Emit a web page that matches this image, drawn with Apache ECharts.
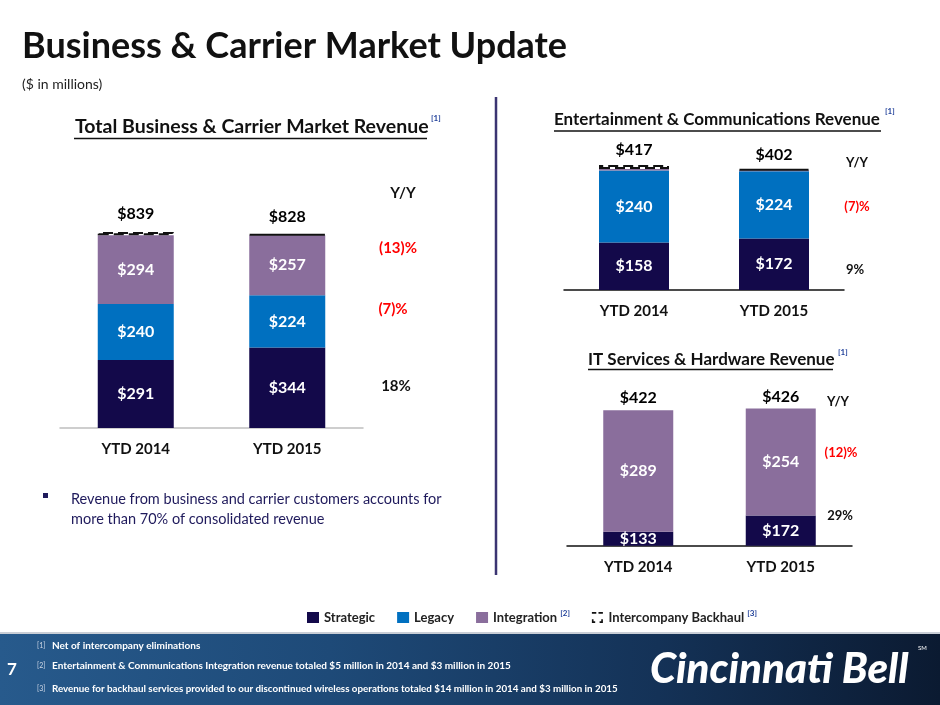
<!DOCTYPE html>
<html>
<head>
<meta charset="utf-8">
<script src="https://cdn.jsdelivr.net/npm/echarts@6/dist/echarts.min.js"></script>
<style>
  html, body { margin: 0; padding: 0; background: #fff; }
  #main { width: 940px; height: 705px; }
</style>
</head>
<body>
<div id="main"></div>
<script>
// categories
var years = ['YTD 2014', 'YTD 2015'];

// Total Business & Carrier Market
var bcStrategic = [291, 344];
var bcLegacy = [240, 224];
var bcIntegration = [294, 257];
var bcBackhaul = [14, 3];
var bcYoY = ['(13)%', '(7)%', '18%'];

// Entertainment & Communications
var ecStrategic = [158, 172];
var ecLegacy = [240, 224];
var ecIntegration = [5, 3];
var ecBackhaul = [14, 3];
var ecYoY = ['(7)%', '9%'];

// IT Services & Hardware
var itStrategic = [133, 172];
var itIntegration = [289, 254];
var itYoY = ['(12)%', '29%'];

var FONT = 'Lato, "Open Sans", sans-serif';
var C_STRAT = '#13094a', C_LEG = '#0070c0', C_INT = '#8a6e9c';
var RED = '#ff0000';

function sum() {
    var arrs = arguments;
    return years.map(function (_, i) {
        var s = 0;
        for (var k = 0; k < arrs.length; k++) s += arrs[k][i];
        return s;
    });
}
var bcTotal = sum(bcStrategic, bcLegacy, bcIntegration, bcBackhaul);
var ecTotal = sum(ecStrategic, ecLegacy, ecIntegration, ecBackhaul);
var itTotal = sum(itStrategic, itIntegration);

var inLabel = {
    show: true, position: 'inside', color: '#fff', fontFamily: FONT,
    fontWeight: 'bold', fontSize: 16,
    formatter: function (p) { return '$' + p.value; }
};

function bar(name, idx, stack, data, color, width, label) {
    return {
        name: name, type: 'bar', stack: stack, xAxisIndex: idx, yAxisIndex: idx,
        data: data, barWidth: width,
        itemStyle: { color: color },
        label: label ? inLabel : { show: false },
        emphasis: { disabled: true }
    };
}
function backhaul(idx, stack, data, width) {
    return {
        name: 'Intercompany Backhaul', type: 'bar', stack: stack,
        xAxisIndex: idx, yAxisIndex: idx, data: data, barWidth: width,
        itemStyle: { color: '#fff', borderColor: '#111', borderWidth: 2, borderType: [10, 5] },
        emphasis: { disabled: true }
    };
}
function totals(idx, data, dist) {
    return {
        name: 'Total', type: 'scatter', xAxisIndex: idx, yAxisIndex: idx,
        data: data, symbolSize: 0, itemStyle: { color: '#000', opacity: 1 },
        label: {
            show: true, position: 'top', distance: dist, color: '#000',
            fontFamily: FONT, fontWeight: 'bold', fontSize: 16,
            formatter: function (p) { return '$' + p.value; }
        },
        emphasis: { disabled: true }, z: 5
    };
}

function txt(x, y, text, size, color, opts) {
    var st = {
        text: text, x: x, y: y, fill: color || '#111', fontFamily: FONT,
        fontSize: size, fontWeight: 'bold', align: 'left', verticalAlign: 'middle'
    };
    for (var k in (opts || {})) st[k] = opts[k];
    return { type: 'text', style: st, z: 10 };
}
function line(x1, y1, x2, y2, color, w) {
    return { type: 'line', shape: { x1: x1, y1: y1, x2: x2, y2: y2 },
             style: { stroke: color, lineWidth: w }, z: 10 };
}
var SUP = '#1f3f99';

var xAxisBase = function (idx, lineColor) {
    return {
        type: 'category', gridIndex: idx, data: years,
        axisTick: { show: false },
        axisLine: { lineStyle: { color: lineColor, width: 1.5 } },
        axisLabel: { color: '#111', fontFamily: FONT, fontWeight: 'bold', fontSize: 15, margin: 14 }
    };
};

var chart = echarts.init(document.getElementById('main'));
var option = {
    animation: false,
    grid: [
        { left: 60, width: 303, top: 194.3, height: 233.7 },
        { left: 564, width: 280, top: 110, height: 180 },
        { left: 567, width: 285, top: 335.2, height: 210.5 }
    ],
    xAxis: [xAxisBase(0, '#bfbfbf'), xAxisBase(1, '#111'), xAxisBase(2, '#111')],
    yAxis: [
        { type: 'value', gridIndex: 0, min: 0, max: 1000, show: false },
        { type: 'value', gridIndex: 1, min: 0, max: 600, show: false },
        { type: 'value', gridIndex: 2, min: 100, max: 600, show: false }
    ],
    legend: {
        left: 302, top: 604, itemWidth: 12, itemHeight: 11, itemGap: 22,
        selectedMode: false,
        data: [
            { name: 'Strategic', icon: 'rect' },
            { name: 'Legacy', icon: 'rect' },
            { name: 'Integration', icon: 'rect' },
            { name: 'Intercompany Backhaul',
              icon: 'path://M0,0h4v1.5h-4z M6,0h4v1.5h-4z M0,6.5h1.5v3.5h-1.5z M8.5,6.5h1.5v3.5h-1.5z M0,8.5h3v1.5h-3z M7,8.5h3v1.5h-3z',
              itemStyle: { color: '#111', borderWidth: 0 } }
        ],
        formatter: function (n) {
            if (n === 'Integration') return n + ' {s|[2]}';
            if (n === 'Intercompany Backhaul') return n + ' {s|[3]}';
            return n;
        },
        textStyle: {
            color: '#222', fontFamily: FONT, fontWeight: 'bold', fontSize: 13,
            rich: { s: { fontSize: 8, color: SUP, fontFamily: FONT, fontWeight: 'bold', padding: [0, 0, 9, 0] } }
        }
    },
    series: [
        bar('Strategic', 0, 'bc', bcStrategic, C_STRAT, 76, true),
        bar('Legacy', 0, 'bc', bcLegacy, C_LEG, 76, true),
        bar('Integration', 0, 'bc', bcIntegration, C_INT, 76, true),
        backhaul(0, 'bc', bcBackhaul, 76),
        totals(0, bcTotal, 10),

        bar('Strategic', 1, 'ec', ecStrategic, C_STRAT, 70, true),
        bar('Legacy', 1, 'ec', ecLegacy, C_LEG, 70, true),
        bar('Integration', 1, 'ec', ecIntegration, C_INT, 70, false),
        backhaul(1, 'ec', ecBackhaul, 70),
        totals(1, ecTotal, 7),

        bar('Strategic', 2, 'it', itStrategic, C_STRAT, 70, true),
        bar('Integration', 2, 'it', itIntegration, C_INT, 70, true),
        totals(2, itTotal, 4)
    ],
    graphic: [
        txt(22, 46, 'Business & Carrier Market Update', 36, '#111'),
        txt(22, 84, '($ in millions)', 14, '#222', { fontWeight: 'normal' }),

        // chart titles
        txt(75, 127, 'Total Business & Carrier Market Revenue', 19.5, '#111'),
        line(74, 138.5, 427, 138.5, '#111', 1.5),
        txt(431, 118, '[1]', 8, SUP),
        txt(554, 120, 'Entertainment & Communications Revenue', 17, '#111'),
        line(554, 131, 881, 131, '#111', 1.5),
        txt(885, 111, '[1]', 8, SUP),
        txt(588, 360, 'IT Services & Hardware Revenue', 17, '#111'),
        line(588, 369.5, 833, 369.5, '#111', 1.5),
        txt(838, 352, '[1]', 8, SUP),

        // divider
        line(496, 97, 496, 575, '#3b3472', 2.5),

        // Y/Y columns
        txt(403, 193, 'Y/Y', 15, '#111', { align: 'center' }),
        txt(398, 248, bcYoY[0], 15, RED, { align: 'center' }),
        txt(393, 309, bcYoY[1], 15, RED, { align: 'center' }),
        txt(396, 386, bcYoY[2], 15, '#111', { align: 'center' }),
        txt(857, 163, 'Y/Y', 13, '#111', { align: 'center' }),
        txt(857, 207, ecYoY[0], 13, RED, { align: 'center' }),
        txt(855, 270, ecYoY[1], 13, '#111', { align: 'center' }),
        txt(838, 402, 'Y/Y', 13, '#111', { align: 'center' }),
        txt(841, 453, itYoY[0], 13, RED, { align: 'center' }),
        txt(840, 516, itYoY[1], 13, '#111', { align: 'center' }),

        // bullet
        { type: 'rect', shape: { x: 43, y: 493, width: 5, height: 5 }, style: { fill: '#1f1a5c' }, z: 10 },
        txt(71, 499, 'Revenue from business and carrier customers accounts for', 14.5, '#1f1a5c', { fontWeight: 'normal' }),
        txt(71, 519, 'more than 70% of consolidated revenue', 14.5, '#1f1a5c', { fontWeight: 'normal' }),

        // footer band
        { type: 'rect', shape: { x: 0, y: 633, width: 940, height: 72 }, z: 1,
          style: { fill: new echarts.graphic.LinearGradient(0, 0, 1, 0, [
              { offset: 0, color: '#275a8c' }, { offset: 0.35, color: '#1e4a78' },
              { offset: 0.7, color: '#143257' }, { offset: 1, color: '#0b1a31' }]) } },
        line(0, 633, 940, 633, '#c9ced6', 2),
        txt(7, 670, '7', 17, '#fff'),
        txt(37, 646, '[1]', 7, '#cfd8e6', { fontWeight: 'normal' }),
        txt(52, 646, 'Net of intercompany eliminations', 10, '#fff'),
        txt(37, 666, '[2]', 7, '#cfd8e6', { fontWeight: 'normal' }),
        txt(52, 666, 'Entertainment & Communications Integration revenue totaled $5 million in 2014 and $3 million in 2015', 10, '#fff'),
        txt(37, 689, '[3]', 7, '#cfd8e6', { fontWeight: 'normal' }),
        txt(52, 689, 'Revenue for backhaul services provided to our discontinued wireless operations totaled $14 million in 2014 and $3 million in 2015', 9.8, '#fff'),
        txt(650, 669, 'Cincinnati Bell', 42, '#fff', { fontStyle: 'italic', fontWeight: 900 }),
        txt(918, 648, 'SM', 6, '#fff', { fontWeight: 'normal' })
    ]
};
chart.setOption(option);
</script>
</body>
</html>
